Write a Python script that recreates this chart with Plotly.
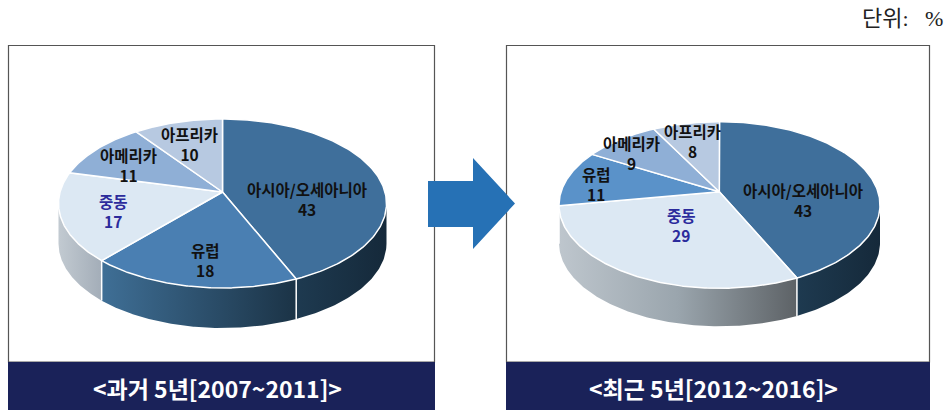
import numpy as np
import plotly.graph_objects as go

# ---- data ----
past_categories = ["아시아/오세아니아", "유럽", "중동", "아메리카", "아프리카"]
past_values = [43, 18, 17, 11, 10]
recent_categories = ["아시아/오세아니아", "중동", "유럽", "아메리카", "아프리카"]
recent_values = [43, 29, 11, 9, 8]
past_title = "<과거 5년[2007~2011]>"
recent_title = "<최근 5년[2012~2016]>"
unit_label = "단위:   %"

# ---- style / layout ----
NAVY = "#1a2259"
ASIA_WALL = ["#1e3a50", "#15293a"]
top_colors = {
    "past": ["#3f6f9b", "#4a7fb2", "#dce8f3", "#8fafd6", "#b7c9e1"],
    "recent": ["#3f6f9b", "#dce8f3", "#5a92c9", "#8fafd6", "#b7c9e1"],
}
wall_colors = {
    "past": [ASIA_WALL, ["#3f6f96", "#1b3346"], ["#c2cad1", "#a3adb8"], ["#888", "#888"], ["#999", "#999"]],
    "recent": [ASIA_WALL, ["#bec6cd", "#9aa5ad", "#5d6266"], ["#4a7fb2", "#4a7fb2"], ["#888", "#888"], ["#999", "#999"]],
}
geom = {
    "past": dict(cx=222.5, cy=203.5, rx=164.0, ry=84.5, px=222.5, py=192.0, depth=40.0, p_right=0.063, p_left=0.07),
    "recent": dict(cx=719.5, cy=205.0, rx=160.5, ry=83.3, px=719.3, py=191.7, depth=38.0, p_right=0.07, p_left=0.09),
}
label_pos = {
    "past": [(307, 198.5), (205, 260), (113, 211), (128, 164.5), (189, 143.5)],
    "recent": [(802.7, 200), (681.7, 225), (596, 184), (631, 152.5), (692.7, 140.5)],
}
panels = [dict(x0=8.5, x1=434.5, title=past_title, cx=217),
          dict(x0=506.5, x1=929.5, title=recent_title, cx=713)]
PANEL_TOP, BAND_TOP, BAND_BOTTOM = 45.5, 362, 410


def rim(theta, g):
    """Point on the tilted pie's rim for a clockwise-from-top angle (perspective disc map)."""
    p = np.where(theta <= np.pi, g["p_right"], g["p_left"])
    z = np.sin(theta) + 1j * np.cos(theta)
    a = 1j * p
    w = (z + a) / (1 + np.conj(a) * z)
    return g["cx"] + g["rx"] * w.real, g["cy"] - g["ry"] * w.imag


fig = go.Figure()


def add_pie(key, categories, values):
    g = geom[key]
    edges = np.cumsum([0] + list(values)) / sum(values) * 2 * np.pi
    # walls first
    for i in range(len(values)):
        th = np.linspace(edges[i], edges[i + 1], 160)
        x, y = rim(th, g)
        vis = y >= g["cy"]
        if vis.sum() < 2:
            continue
        xv, yv = x[vis], y[vis]
        stops = wall_colors[key][i]
        scale = [[j / (len(stops) - 1), c] for j, c in enumerate(stops)]
        fig.add_trace(go.Scatter(
            x=np.r_[xv, xv[::-1], xv[0]], y=np.r_[yv, yv[::-1] + g["depth"], yv[0]],
            mode="lines", fill="toself", line=dict(width=0, color=stops[0]),
            fillgradient=dict(type="horizontal", colorscale=scale),
            hoverinfo="skip", showlegend=False))
    # wall separators
    for e in edges:
        x, y = rim(np.array([e]), g)
        if y[0] >= g["cy"]:
            fig.add_trace(go.Scatter(
                x=[x[0], x[0]], y=[y[0], y[0] + g["depth"]], mode="lines",
                line=dict(color="white", width=1.5), hoverinfo="skip", showlegend=False))
    # top face
    for i, cat in enumerate(categories):
        th = np.linspace(edges[i], edges[i + 1], 160)
        x, y = rim(th, g)
        fig.add_trace(go.Scatter(
            x=np.r_[g["px"], x, g["px"]], y=np.r_[g["py"], y, g["py"]],
            mode="lines", fill="toself", fillcolor=top_colors[key][i],
            line=dict(color="white", width=1.5), name=cat, hoverinfo="skip", showlegend=False))
    # labels
    for i, cat in enumerate(categories):
        color = "#2b2b9c" if cat == "중동" else "#111111"
        fig.add_annotation(
            x=label_pos[key][i][0], y=label_pos[key][i][1], xref="x", yref="y",
            text=f"{cat}<br>{values[i]}", showarrow=False,
            font=dict(family="Noto Sans CJK KR", size=15.5, color=color, weight=700))


add_pie("past", past_categories, past_values)
add_pie("recent", recent_categories, recent_values)

shapes = []
for pn in panels:
    shapes.append(dict(type="rect", xref="x", yref="y", x0=pn["x0"], x1=pn["x1"], y0=PANEL_TOP, y1=BAND_TOP,
                       line=dict(color="#555555", width=1.2), fillcolor="rgba(0,0,0,0)", layer="below"))
    shapes.append(dict(type="rect", xref="x", yref="y", x0=pn["x0"] - 0.5, x1=pn["x1"] + 0.5, y0=BAND_TOP, y1=BAND_BOTTOM,
                       line=dict(width=0), fillcolor=NAVY, layer="below"))
    fig.add_annotation(x=pn["cx"], y=388, xref="x", yref="y", text=pn["title"].replace("<", "&lt;").replace(">", "&gt;"),
                       showarrow=False, font=dict(family="Noto Sans CJK KR", size=23, color="white", weight=700))
# block arrow between the panels
shapes.append(dict(type="path", xref="x", yref="y",
                   path="M428,181 L473,181 L473,158 L515,203.5 L473,249 L473,227 L428,227 Z",
                   line=dict(width=0), fillcolor="#2671b5", layer="below"))

fig.add_annotation(x=945, y=18, xref="x", yref="y", xanchor="right", text=unit_label.replace(" ", "&nbsp;"), showarrow=False,
                   font=dict(family="Liberation Serif, Noto Sans CJK KR", size=22, color="#222222"))

fig.update_layout(
    width=949, height=410, margin=dict(l=0, r=0, t=0, b=0),
    paper_bgcolor="white", plot_bgcolor="white", shapes=shapes, showlegend=False,
    xaxis=dict(range=[0, 949], visible=False, fixedrange=True),
    yaxis=dict(range=[410, 0], visible=False, fixedrange=True),
)
fig.write_html("out.html", config={"displayModeBar": False},
               post_script="document.documentElement.style.overflow='hidden';document.body.style.margin='0';")
